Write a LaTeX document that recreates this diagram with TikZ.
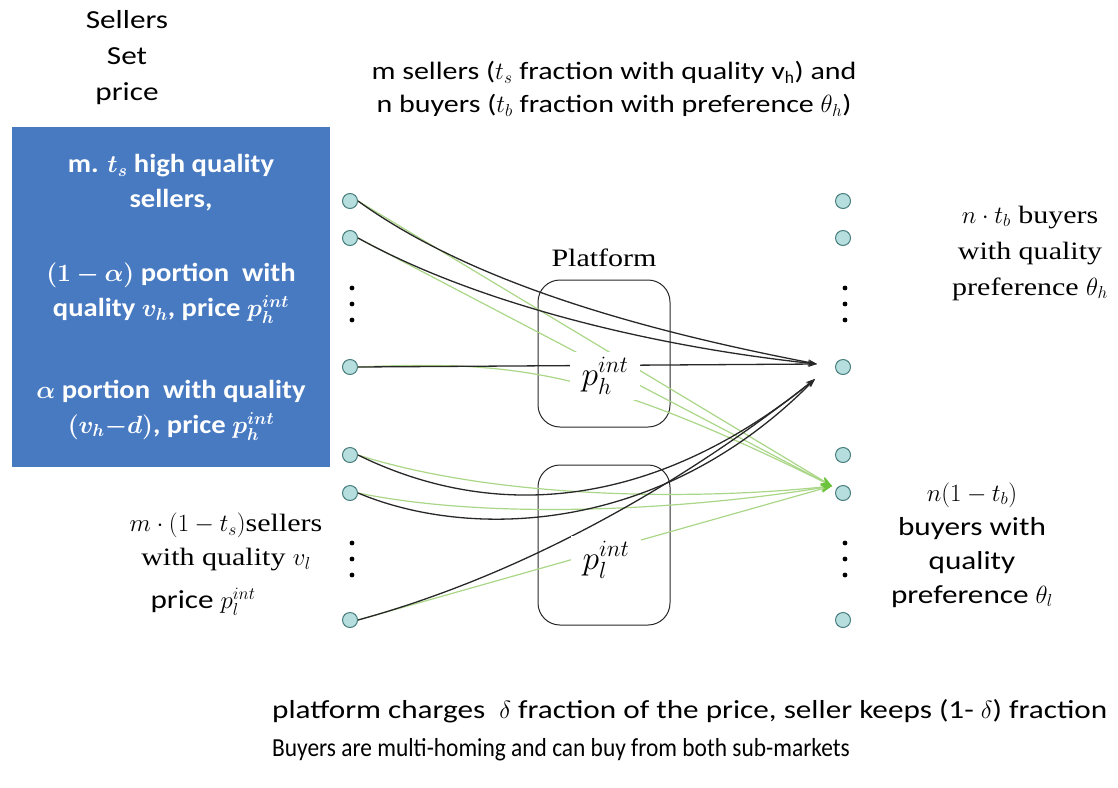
\documentclass[tikz,border=0pt]{standalone}
\usepackage{amsmath,bm}
\usepackage{fontspec}
\setmainfont{Carlito}
\newfontfamily\wsans{Carlito}[FakeStretch=1.2]
\newfontfamily\bsans{Carlito}[FakeStretch=1.1]
\newfontfamily\nsans{Carlito}[FakeStretch=0.9]
\newfontfamily\wserif{Liberation Serif}[FakeStretch=1.2]
\usetikzlibrary{arrows.meta}
\definecolor{boxblue}{RGB}{72,122,194}
\definecolor{dotfill}{RGB}{183,222,222}
\definecolor{dotdraw}{RGB}{70,125,125}
\definecolor{lgreen}{RGB}{170,214,135}
\definecolor{tgreen}{RGB}{110,195,60}
\definecolor{dline}{RGB}{40,40,40}
\tikzset{
  person/.style={circle,draw=dotdraw,fill=dotfill,line width=1pt,minimum size=15pt,inner sep=0pt},
  txt/.style={font=\fontsize{26}{34}\selectfont\wsans,align=center,inner sep=0pt},
  stxt/.style={font=\fontsize{25}{35}\selectfont\wserif,align=center,inner sep=0pt},
  wtxt/.style={font=\fontsize{26}{35}\selectfont\bsans\bfseries,text=white,align=center,inner sep=0pt},
  platbox/.style={draw=dline,line width=1pt,rounded corners=22pt},
  blk/.style={draw=dline,line width=1.3pt,-{Stealth[length=9pt,width=6pt]}},
  grn/.style={draw=lgreen,line width=1.2pt,-{Stealth[length=11pt,width=8pt,color=tgreen]}},
  pricelab/.style={fill=white,inner xsep=12pt,inner ysep=6pt,font=\fontsize{24}{26}\selectfont}
}
\begin{document}
\begin{tikzpicture}[x=1pt,y=-1pt]
\useasboundingbox (0,0) rectangle (1118,787);

% texts
\node[txt,font=\fontsize{26}{36}\selectfont\wsans] (sellset) at (127,58) {Sellers\\Set\\price};
\node[txt,font=\fontsize{25}{33}\selectfont\wsans] (toptext) at (614,89) {m sellers ($t_s$ fraction with quality v$_\mathrm{h}$) and\\n buyers ($t_b$ fraction with preference $\theta_h$)};

\node[fill=boxblue,minimum width=318pt,minimum height=340pt,inner sep=0pt] (bluebox) at (171,297) {};
\node[wtxt] (bt1) at (171,183) {m. $\bm{t_s}$ high quality\\sellers,};
\node[wtxt] (bt2) at (171,293) {$\bm{(1-\alpha)}$ portion\ \ with\\quality $\bm{v_h}$, price $\bm{p_h^{int}}$};
\node[wtxt] (bt3) at (171,410) {$\bm{\alpha}$ portion\ \ with quality\\$\bm{(v_h{-}d)}$, price $\bm{p_h^{int}}$};

\node[stxt,font=\fontsize{25}{34}\selectfont\wserif] (lowsell) at (226,542) {$m\cdot(1-t_s)$sellers\\with quality $v_l$};
\node[txt] (lowprice) at (203,602) {price $p_l^{int}$};

\node[stxt,font=\fontsize{25}{36}\selectfont\wserif] (hbuy) at (1030,253) {$n\cdot t_b$ buyers\\with quality\\preference $\theta_h$};
\node[txt] (lbuy) at (972,545) {$n(1-t_b)$\\buyers with\\quality\\preference $\theta_l$};

\node[txt,anchor=west] (note1) at (272,711) {platform charges\ \ $\delta$\ fraction of the price, seller keeps (1- $\delta$) fraction};
\node[txt,font=\fontsize{26}{34}\selectfont\nsans,anchor=west] (note2) at (272,750) {Buyers are multi-homing and can buy from both sub-markets};

% platform boxes
\node[stxt] (platlab) at (604,258) {Platform};
\draw[platbox] (538,280) rectangle (670,427);
\draw[platbox] (538,465) rectangle (670,625);

% sellers and buyers
\foreach \i/\y in {1/201,2/238,3/367,4/455,5/493,6/620}{
  \node[person] (L\i) at (350,\y) {};
  \node[person] (R\i) at (843,\y) {};
}
\foreach \y in {288,304,320,543,559,575}{
  \fill (352,\y) circle (2.4pt);
  \fill (845,\y) circle (2.4pt);
}

\coordinate (tH) at (817,364);
\coordinate (tHb) at (815,379);
\coordinate (tG) at (832,486);

% green connectors
\draw[grn] (L1.east) -- (tG);
\draw[grn] (L2.east) -- (tG);
\draw[grn] (L3.east) .. controls (520,360) and (600,372) .. (tG);
\draw[grn] (L4.east) .. controls (500,500) and (700,500) .. (tG);
\draw[grn] (L5.east) .. controls (500,522) and (700,508) .. (tG);
\draw[grn] (L6.east) -- (tG);

% black connectors
\draw[blk] (L1.east) .. controls (470,282) and (640,330) .. (tH);
\draw[blk] (L2.east) .. controls (470,300) and (640,345) .. (tH);
\draw[blk] (L3.east) -- (tH);
\draw[blk] (L4.east) .. controls (480,515) and (640,520) .. (tHb);
\draw[blk] (L5.east) .. controls (470,540) and (660,535) .. (tHb);
\draw[blk] (L6.east) .. controls (540,570) and (700,470) .. (tHb);

% price labels
\node[pricelab] (ph) at (605,376) {\scalebox{1.35}{$p_h^{int}$}};
\node[pricelab] (pl) at (606,560) {\scalebox{1.35}{$p_l^{int}$}};
\end{tikzpicture}
\end{document}
